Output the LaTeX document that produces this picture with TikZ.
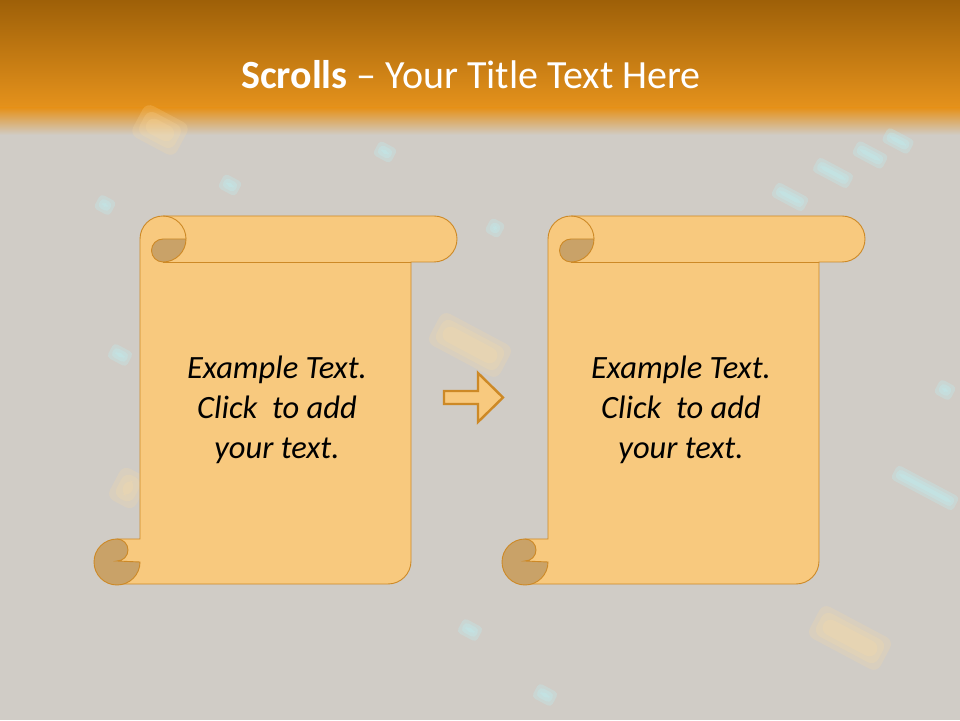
\documentclass[tikz,border=0pt]{standalone}
\usepackage{fontspec}
\setmainfont{Carlito}
\usepackage{xcolor}
\usepackage{tikz}
\usetikzlibrary{arrows.meta,positioning,calc}
\definecolor{bandtop}{RGB}{158,96,8}
\definecolor{bandlow}{RGB}{229,146,28}
\definecolor{slidebg}{RGB}{208,204,198}
\definecolor{paper}{RGB}{248,201,126}
\definecolor{paperedge}{RGB}{205,137,38}
\definecolor{curl}{RGB}{201,162,104}
\definecolor{glowblue}{RGB}{190,240,245}
\definecolor{glowamber}{RGB}{255,222,160}

% one scroll, shifted right by #1
\newcommand{\scrollshape}[1]{%
\begin{scope}[xshift=#1]
\draw[paperline, fill=paper] (140,181) -- (140,481) arc[start angle=180,end angle=90,radius=23]
  -- (434,504) arc[start angle=90,end angle=-90,radius=23] -- (411,458) -- (411,159)
  arc[start angle=0,end angle=-90,radius=23] -- (117,136) -- (117,181) -- cycle;
\draw[paperline] (163,458) -- (411,458);
\draw[paperline] (163,504) arc[start angle=90,end angle=0,radius=23];
\draw[paperline, fill=curl] (186,481) arc[start angle=0,end angle=-90,radius=23]
  arc[start angle=-90,end angle=-270,radius=11.5] -- cycle;
\draw[paperline, fill=curl] (117,181) arc[start angle=90,end angle=360,radius=23]
  -- (117,159) arc[start angle=-90,end angle=90,radius=11] -- cycle;
\end{scope}}

\begin{document}
\begin{tikzpicture}[x=1pt, y=1pt, >=Latex]
\tikzstyle{paperline}=[draw=paperedge, line width=0.9pt]
\tikzstyle{scrolltext}=[align=center, font=\fontsize{32.5}{40}\selectfont\itshape, text=black]
\tikzstyle{titletext}=[font=\fontsize{40}{46}\selectfont, text=white]
\tikzstyle{glowb}=[fill=glowblue, opacity=0.28, rounded corners=4pt]
\tikzstyle{glowa}=[fill=glowamber, opacity=0.2, rounded corners=8pt]
\useasboundingbox (0,0) rectangle (960,720);
% background and title band
\fill[slidebg] (0,0) rectangle (960,720);
\shade[top color=bandtop, bottom color=bandlow] (0,612) rectangle (960,720);
\shade[top color=bandlow, bottom color=slidebg] (0,585) rectangle (960,612);
% faint glows, three soft layers each
\foreach \gx/\gy/\gw in {790/523/36, 833/547/40, 870/565/34, 898/579/30, 925/232/70,
    120/365/22, 230/535/20, 385/568/20, 495/492/16, 470/90/22, 545/25/22, 945/330/18, 105/515/18}
  \foreach \k in {0,3,6}
    \fill[glowb, rotate around={-28:(\gx,\gy)}] (\gx-\gw/2+\k,\gy-8+\k) rectangle (\gx+\gw/2-\k,\gy+8-\k);
\foreach \gx/\gy/\gw in {160/590/50, 470/375/80, 850/82/80, 128/232/30}
  \foreach \k in {0,5,10}
    \fill[glowa, rotate around={-28:(\gx,\gy)}] (\gx-\gw/2+\k,\gy-18+\k) rectangle (\gx+\gw/2-\k,\gy+18-\k);
% scrolls
\scrollshape{0}
\scrollshape{408}
\node[titletext] (title) at (471,645) {\textbf{Scrolls} -- Your Title Text Here};
\node[scrolltext] (txtA) at (277,310) {Example Text.\\Click~ to add\\your text.};
\node[scrolltext] (txtB) at (681,310) {Example Text.\\Click~ to add\\your text.};
% block arrow between the scrolls
\draw[draw=paperedge, line width=2.4pt, fill=paper, line join=miter]
  (444,329) -- (478,329) -- (478,347) -- (503,322.5) -- (478,298) -- (478,316) -- (444,316) -- cycle;
\end{tikzpicture}
\end{document}
